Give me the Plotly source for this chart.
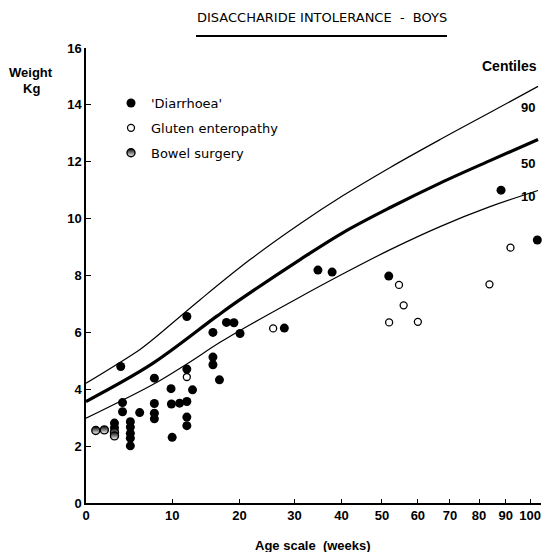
import math
import plotly.graph_objects as go

# ---------------- data ----------------
AGE_OFFSET = 31  # age scale: log(weeks + 31)

x_ticks = [0, 10, 20, 30, 40, 50, 60, 70, 80, 90, 100]
y_ticks = [0, 2, 4, 6, 8, 10, 12, 14, 16]

# centile curves (weeks, kg)
c90_wk = [0, 5.9, 7.2, 13.9, 21.8, 31.1, 40.4, 52.2, 66.8, 84.0, 103.4]
c90_kg = [4.21, 5.39, 5.68, 7.15, 8.56, 9.82, 10.81, 11.80, 12.78, 13.73, 14.65]

c50_wk = [0, 7.4, 16.4, 20.1, 31.1, 40.4, 52.2, 66.8, 84.0, 103.4]
c50_kg = [3.57, 4.89, 6.57, 7.15, 8.56, 9.51, 10.39, 11.25, 12.04, 12.78]

c10_wk = [0, 7.8, 12.0, 16.9, 21.8, 30.1, 40.4, 52.2, 66.8, 84.0, 103.4]
c10_kg = [2.98, 4.21, 4.89, 5.65, 6.27, 7.15, 8.06, 8.91, 9.72, 10.42, 10.99]

# 'Diarrhoea'
diar_wk = [3.0, 3.0, 3.7, 3.9, 3.9, 4.8, 4.8, 4.8, 4.8, 4.8, 5.9, 7.7, 7.7, 7.7, 7.7,
           9.85, 9.9, 10.0, 11.0, 12.0, 12.0, 12.0, 12.0, 12.0, 12.8, 15.8, 15.8, 15.8,
           16.8, 17.9, 19.1, 20.1, 28.0, 34.8, 37.9, 51.8, 88.2, 103.1]
diar_kg = [2.81, 2.65, 4.80, 3.53, 3.21, 2.86, 2.67, 2.45, 2.28, 2.01, 3.18, 4.39, 3.50, 3.16, 2.96,
           4.02, 3.48, 2.31, 3.51, 6.56, 4.71, 3.57, 3.02, 2.72, 3.98, 6.00, 5.13, 4.86,
           4.33, 6.35, 6.34, 5.96, 6.15, 8.19, 8.12, 7.98, 11.0, 9.25]

# Gluten enteropathy
glut_wk = [12.0, 25.9, 51.9, 54.6, 55.9, 60.0, 83.8, 91.9]
glut_kg = [4.43, 6.14, 6.35, 7.67, 6.95, 6.37, 7.69, 8.98]

# Bowel surgery
bowel_wk = [1.0, 1.9, 3.0, 3.0]
bowel_kg = [2.55, 2.57, 2.49, 2.36]

centile_labels = ["90", "50", "10"]

# ---------------- figure ----------------
W, H = 545, 552
ML, MR, MT, MB = 86, 4, 48, 49
PW, PH = W - ML - MR, H - MT - MB


def px(xp):
    return (xp - ML) / PW


def py(yp):
    return (H - MB - yp) / PH


def sx(weeks):
    return [w + AGE_OFFSET for w in weeks]


FONT = "Liberation Sans, Arial, sans-serif"

fig = go.Figure()

for wk, kg, lw in [(c90_wk, c90_kg, 1.2), (c50_wk, c50_kg, 3.2), (c10_wk, c10_kg, 1.2)]:
    fig.add_trace(go.Scatter(x=sx(wk), y=kg, mode="lines",
                             line=dict(color="black", width=lw, shape="spline", smoothing=1.0),
                             showlegend=False, hoverinfo="skip"))

fig.add_trace(go.Scatter(x=sx(diar_wk), y=diar_kg, mode="markers", name="'Diarrhoea'", legendgroup="a",
                         marker=dict(symbol="circle", size=9, color="black", line=dict(width=0)),
                         cliponaxis=False))
fig.add_trace(go.Scatter(x=sx(glut_wk), y=glut_kg, mode="markers", name="Gluten enteropathy", legendgroup="b",
                         marker=dict(symbol="circle", size=7, color="white", line=dict(width=1.3, color="black")),
                         cliponaxis=False))
fig.add_trace(go.Scatter(x=sx(bowel_wk), y=bowel_kg, mode="markers", name="Bowel surgery", legendgroup="c",
                         marker=dict(symbol="circle", size=8, color="black",
                                     gradient=dict(type="vertical", color="white"),
                                     line=dict(width=1.4, color="black")),
                         cliponaxis=False))

fig.update_xaxes(
    type="log",
    range=[math.log10(AGE_OFFSET), math.log10(AGE_OFFSET + 104.7)],
    tickvals=sx(x_ticks), ticktext=[str(t) for t in x_ticks],
    ticks="inside", ticklen=4, tickwidth=1, tickcolor="black",
    showline=True, linecolor="black", linewidth=1.5,
    showgrid=False, zeroline=False, automargin=False,
    tickfont=dict(family=FONT, size=13, color="black", weight="bold"),
)
fig.update_yaxes(
    range=[0, 16], tickvals=y_ticks,
    ticks="inside", ticklen=5, tickwidth=1, tickcolor="black",
    showline=True, linecolor="black", linewidth=1.5,
    showgrid=False, zeroline=False, automargin=False,
    tickfont=dict(family=FONT, size=13, color="black", weight="bold"),
)

annotations = [
    dict(text="DISACCHARIDE INTOLERANCE  -  BOYS", x=px(322), y=py(17), xref="paper", yref="paper",
         showarrow=False, font=dict(family="DejaVu Sans", size=13, color="black"),
         xanchor="center", yanchor="middle"),
    dict(text="<b>Age scale  (weeks)</b>", x=px(313), y=py(545), xref="paper", yref="paper",
         showarrow=False, font=dict(family=FONT, size=13, color="black"),
         xanchor="center", yanchor="middle"),
    dict(text="<b>Weight</b>", x=px(31), y=py(72), xref="paper", yref="paper", showarrow=False,
         font=dict(family=FONT, size=13, color="black"), xanchor="center", yanchor="middle"),
    dict(text="<b>Kg</b>", x=px(31), y=py(88), xref="paper", yref="paper", showarrow=False,
         font=dict(family=FONT, size=13, color="black"), xanchor="center", yanchor="middle"),
    dict(text="<b>Centiles</b>", x=px(509), y=py(66), xref="paper", yref="paper", showarrow=False,
         font=dict(family=FONT, size=14, color="black"), xanchor="center", yanchor="middle"),
]
for lab, yp in zip(centile_labels, [107, 163, 197]):
    annotations.append(dict(text=lab, x=px(528), y=py(yp), xref="paper", yref="paper", showarrow=False,
                            font=dict(family=FONT, size=13, color="black", weight="bold"),
                            xanchor="center", yanchor="middle"))

fig.update_layout(
    width=W, height=H,
    margin=dict(l=ML, r=MR, t=MT, b=MB),
    paper_bgcolor="white", plot_bgcolor="white",
    showlegend=True,
    legend=dict(x=px(111), y=py(88), xanchor="left", yanchor="top", bgcolor="rgba(0,0,0,0)",
                font=dict(family="DejaVu Sans", size=13, color="black"), tracegroupgap=5, itemwidth=30),
    annotations=annotations,
    shapes=[dict(type="line", xref="paper", yref="paper", x0=px(196), x1=px(447), y0=py(36), y1=py(36),
                 line=dict(color="black", width=2))],
)

fig.write_html("out.html", config={"displayModeBar": False},
               post_script="document.body.style.margin='0px';document.body.style.padding='0px';")
